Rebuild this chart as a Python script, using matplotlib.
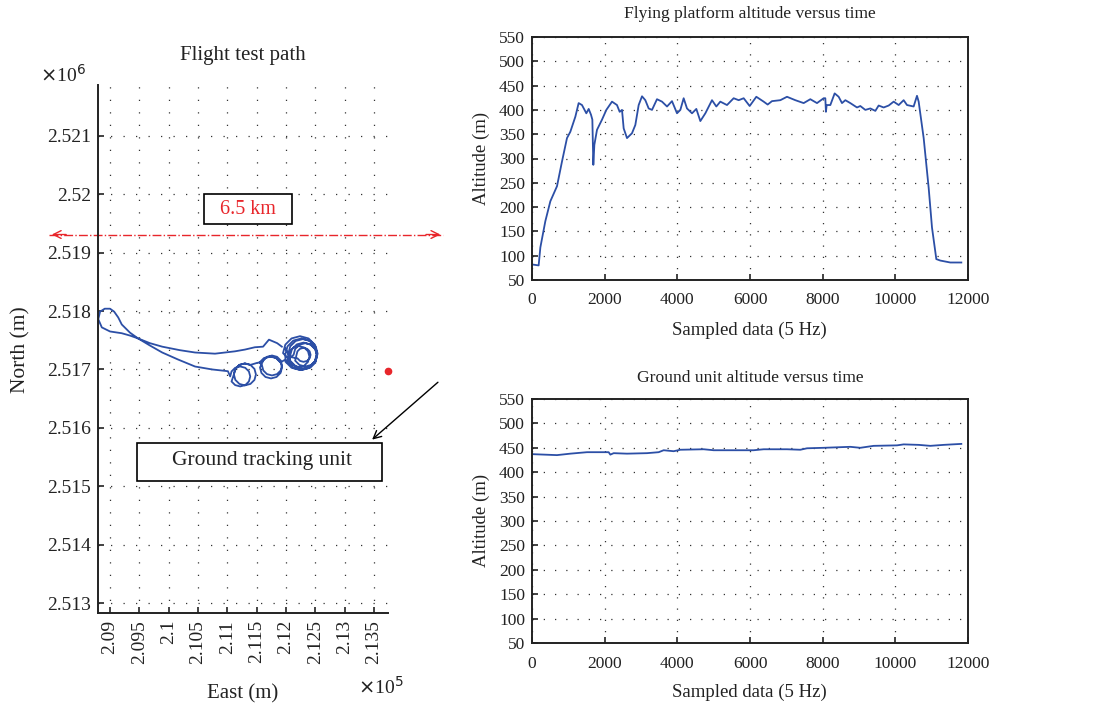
import numpy as np
import matplotlib
matplotlib.use("Agg")
import matplotlib.pyplot as plt
from matplotlib.patches import Rectangle

plt.rcParams['font.family'] = ['Liberation Serif', 'DejaVu Serif']

W, H = 1104, 708
BLUE = '#2c4fa6'
RED = '#e8262b'
INK = '#222222'

# flight path (East, North in metres)
# westward leg out to the turn and the return leg
path_legs = [
    (211930, 2517390), (211850, 2517450), (211780, 2517480), (211710, 2517510),
    (211660, 2517450), (211610, 2517390), (211470, 2517380), (211300, 2517340),
    (211130, 2517310), (210960, 2517290), (210790, 2517270), (210450, 2517290),
    (210190, 2517330), (209890, 2517390), (209680, 2517450), (209480, 2517530),
    (209340, 2517580), (209200, 2517620), (209000, 2517650), (208860, 2517720),
    (208800, 2517860), (208830, 2517990), (208910, 2518040), (209000, 2518040),
    (209070, 2517990), (209140, 2517890), (209200, 2517770), (209340, 2517630),
    (209480, 2517530), (209680, 2517410), (209890, 2517290), (210160, 2517170),
    (210450, 2517050), (210740, 2517000), (211010, 2516970),
]
# first pair of loops (west)
path_loops_a = [
    (211049, 2516880), (211072, 2516966), (211134, 2517028), (211220, 2517051),
    (211306, 2517028), (211368, 2516966), (211391, 2516880), (211368, 2516794),
    (211306, 2516732), (211220, 2516709), (211134, 2516732), (211072, 2516794),
    (211112, 2516915), (211137, 2517009), (211206, 2517078), (211300, 2517103),
    (211394, 2517078), (211463, 2517009), (211488, 2516915), (211463, 2516821),
    (211394, 2516752), (211300, 2516727), (211206, 2516752), (211137, 2516821),
    (211112, 2516915), (211137, 2517009), (211206, 2517078), (211300, 2517103),
    (211394, 2517078), (211500, 2517110), (211582, 2517128),
]
# second group of loops
path_loops_b = [
    (211651, 2517197), (211745, 2517222), (211839, 2517197), (211908, 2517128),
    (211933, 2517034), (211908, 2516940), (211839, 2516871), (211745, 2516846),
    (211651, 2516871), (211582, 2516940), (211557, 2517034), (211614, 2517154),
    (211676, 2517216), (211762, 2517239), (211848, 2517216), (211910, 2517154),
    (211933, 2517068), (211910, 2516982), (211848, 2516920), (211762, 2516897),
    (211676, 2516920), (211614, 2516982), (211591, 2517068), (211550, 2517120),
    (211625, 2517195), (211728, 2517222), (211831, 2517195), (211906, 2517120),
    (211990, 2517170),
]
# tight cluster of loops (east)
path_cluster = [
    (211990, 2517260), (212026, 2517395), (212125, 2517494), (212260, 2517530),
    (212395, 2517494), (212494, 2517395), (212530, 2517260), (212494, 2517125),
    (212395, 2517026), (212260, 2516990), (212125, 2517026), (212026, 2517125),
    (212070, 2517230), (212101, 2517345), (212185, 2517429), (212300, 2517460),
    (212415, 2517429), (212499, 2517345), (212530, 2517230), (212499, 2517115),
    (212415, 2517031), (212300, 2517000), (212185, 2517031), (212101, 2517115),
    (211950, 2517280), (211989, 2517425), (212095, 2517531), (212240, 2517570),
    (212385, 2517531), (212491, 2517425), (212530, 2517280), (212491, 2517135),
    (212385, 2517029), (212240, 2516990), (212095, 2517029), (211989, 2517135),
    (212130, 2517250), (212157, 2517350), (212230, 2517423), (212330, 2517450),
    (212430, 2517423), (212503, 2517350), (212530, 2517250), (212503, 2517150),
    (212430, 2517077), (212330, 2517050), (212230, 2517077), (212157, 2517150),
    (212180, 2517250), (212196, 2517310), (212240, 2517354), (212300, 2517370),
    (212360, 2517354), (212404, 2517310), (212420, 2517250), (212404, 2517190),
    (212360, 2517146), (212300, 2517130), (212240, 2517146), (212196, 2517190),
    (212040, 2517220), (212064, 2517310), (212130, 2517376), (212220, 2517400),
    (212310, 2517376), (212376, 2517310), (212400, 2517220), (212376, 2517130),
    (212310, 2517064), (212220, 2517040), (212130, 2517064), (212064, 2517130),
    (212040, 2517270), (212073, 2517395), (212165, 2517487), (212290, 2517520),
    (212415, 2517487), (212507, 2517395), (212540, 2517270), (212507, 2517145),
    (212415, 2517053), (212290, 2517020), (212165, 2517053), (212073, 2517145),
    (212040, 2517270), (211990, 2517360),
]
ground_east, ground_north = 213740, 2516966

# flying platform altitude (sample index, m)
fly_t = [0, 183, 230, 367, 505, 688, 826, 963, 1055, 1193, 1284, 1376, 1495, 1560, 1624,
         1661, 1688, 1716, 1789, 1927, 2046, 2202, 2339, 2413, 2477, 2523, 2615, 2752,
         2844, 2936, 3028, 3119, 3211, 3303, 3440, 3578, 3716, 3853, 3991, 4083, 4174,
         4266, 4404, 4523, 4633, 4771, 4954, 5073, 5183, 5367, 5550, 5688, 5826, 5991,
         6174, 6376, 6486, 6605, 6835, 7018, 7247, 7477, 7660, 7844, 8027, 8073, 8090,
         8110, 8211, 8330, 8440, 8532, 8624, 8761, 8945, 9036, 9174, 9312, 9450, 9541,
         9679, 9817, 9954, 10092, 10229, 10321, 10504, 10596, 10642, 10780, 10917,
         11009, 11128, 11238, 11513, 11816]
fly_alt = [82, 80, 117, 171, 212, 243, 294, 342, 355, 386, 414, 410, 393, 402, 390,
           380, 287, 328, 359, 380, 400, 417, 410, 396, 400, 362, 342, 352,
           369, 410, 428, 420, 403, 400, 422, 417, 407, 418, 393, 400, 424,
           403, 393, 402, 377, 393, 420, 407, 417, 410, 424, 420, 424, 408,
           427, 417, 411, 418, 420, 427, 420, 414, 422, 414, 424, 424, 396,
           410, 410, 434, 427, 414, 420, 414, 405, 408, 400, 403, 398, 409,
           405, 409, 417, 410, 420, 410, 407, 429, 417, 342, 240,
           158, 93, 90, 86, 86]

# ground unit altitude
gnd_t = [0, 688, 1055, 1514, 2110, 2156, 2248, 2615, 3165, 3486, 3624, 3899, 4083,
         4725, 5000, 6101, 6376, 7018, 7385, 7569, 8027, 8761, 9036, 9404, 10046,
         10229, 10642, 10963, 11330, 11816]
gnd_alt = [437, 435, 438, 441, 441, 436, 439, 438, 439, 441, 445, 443, 446,
           447, 445, 445, 447, 447, 446, 449, 450, 452, 450, 454, 455,
           457, 456, 454, 456, 458]

east_ticks = np.arange(209000, 213501, 500)
north_ticks = np.arange(2513000, 2521001, 1000)
alt_ticks = np.arange(50, 551, 50)
t_ticks = np.arange(0, 12001, 2000)


def fpos(l, t, r, b):
    # pixel box -> figure fraction [left, bottom, width, height]
    return [l / W, 1 - b / H, (r - l) / W, (b - t) / H]


fig = plt.figure(figsize=(W / 100, H / 100), dpi=100)

# ---------------- flight path ----------------
ax = fig.add_axes(fpos(98, 85, 388, 613))
pts = np.array(path_legs + path_loops_a + path_loops_b + path_cluster)
ax.plot(pts[:, 0], pts[:, 1], color=BLUE, lw=1.3)
ax.plot(ground_east, ground_north, 'o', color=RED, ms=4.5, clip_on=False, zorder=5)
ax.set_xlim(208795, 213740)
ax.set_ylim(2512830, 2521870)
ax.set_xticks(east_ticks)
ax.set_xticklabels(['%g' % (v / 1e5) for v in east_ticks], rotation=90)
ax.set_yticks(north_ticks)
ax.set_yticklabels(['%g' % (v / 1e6) for v in north_ticks])
ax.spines['top'].set_visible(False)
ax.spines['right'].set_visible(False)
for s in ('left', 'bottom'):
    ax.spines[s].set_linewidth(1.4)
    ax.spines[s].set_color(INK)
ax.tick_params(direction='in', length=4, width=1.2, labelsize=14, pad=5, colors=INK)
ax.grid(True, color='#333333', lw=0.9, linestyle=(0, (1, 9)))
ax.set_title('Flight test path', fontsize=15, pad=18, color=INK)
ax.set_xlabel('East (m)', fontsize=15, color=INK)
ax.xaxis.set_label_coords(243 / W, 1 - 684 / H, transform=fig.transFigure)
ax.set_ylabel('North (m)', fontsize=15.5, color=INK)
ax.yaxis.set_label_coords(30 / W, 1 - 350 / H, transform=fig.transFigure)
fig.text(63 / W, 1 - 75 / H, r'$\times$10$^{6}$', fontsize=14, ha='center', va='center', color=INK)
fig.text(381 / W, 1 - 687 / H, r'$\times$10$^{5}$', fontsize=14, ha='center', va='center', color=INK)

# 6.5 km span arrow
span_y = 2519310
ax.plot([207960, 214680], [span_y, span_y], color=RED, lw=1, linestyle='-.', clip_on=False)
ax.annotate('', xy=(207960, span_y), xytext=(208300, span_y), annotation_clip=False,
            arrowprops=dict(arrowstyle='->', color=RED, lw=1, mutation_scale=14))
ax.annotate('', xy=(214680, span_y), xytext=(214340, span_y), annotation_clip=False,
            arrowprops=dict(arrowstyle='->', color=RED, lw=1, mutation_scale=14))
fig.patches.append(Rectangle((204 / W, 1 - 224 / H), 88 / W, 30 / H, transform=fig.transFigure,
                             fill=True, facecolor='white', edgecolor='black', lw=1.2))
fig.text(248 / W, 1 - 209 / H, '6.5 km', fontsize=14.5, color=RED, ha='center', va='center')

# ground tracking unit label
ax.annotate('', xy=(213433, 2515767), xytext=(214627, 2516812), annotation_clip=False,
            arrowprops=dict(arrowstyle='->', color='black', lw=1, mutation_scale=14))
fig.patches.append(Rectangle((137 / W, 1 - 481 / H), 245 / W, 38 / H, transform=fig.transFigure,
                             fill=True, facecolor='white', edgecolor='black', lw=1.2))
fig.text(262 / W, 1 - 461 / H, 'Ground tracking unit', fontsize=15.5, color=INK,
         ha='center', va='center')


# ---------------- altitude plots ----------------
def alt_axes(box, t, alt, title, pad):
    a = fig.add_axes(fpos(*box))
    a.plot(t, alt, color=BLUE, lw=1.3)
    a.set_xlim(0, 12000)
    a.set_ylim(50, 550)
    a.set_xticks(t_ticks)
    a.set_yticks(alt_ticks)
    a.tick_params(direction='in', length=4, width=1.2, labelsize=12.5, pad=5, colors=INK)
    a.tick_params(axis='x', pad=9)
    a.grid(True, color='#333333', lw=0.9, linestyle=(0, (1, 8)))
    for s in a.spines.values():
        s.set_linewidth(1.4)
        s.set_color(INK)
    a.set_title(title, fontsize=12.6, pad=pad, color=INK)
    a.set_xlabel('Sampled data (5 Hz)', fontsize=13.5, color=INK)
    a.set_ylabel('Altitude (m)', fontsize=13.5, color=INK)
    return a


ax1 = alt_axes((532, 37, 968, 280), fly_t, fly_alt, 'Flying platform altitude versus time', 14)
ax1.xaxis.set_label_coords(749 / W, 1 - 322 / H, transform=fig.transFigure)
ax1.yaxis.set_label_coords(490 / W, 1 - 158 / H, transform=fig.transFigure)

ax2 = alt_axes((532, 399, 968, 643), gnd_t, gnd_alt, 'Ground unit altitude versus time', 12)
ax2.xaxis.set_label_coords(749 / W, 1 - 684 / H, transform=fig.transFigure)
ax2.yaxis.set_label_coords(490 / W, 1 - 520 / H, transform=fig.transFigure)

fig.savefig('out.png', dpi=100)
